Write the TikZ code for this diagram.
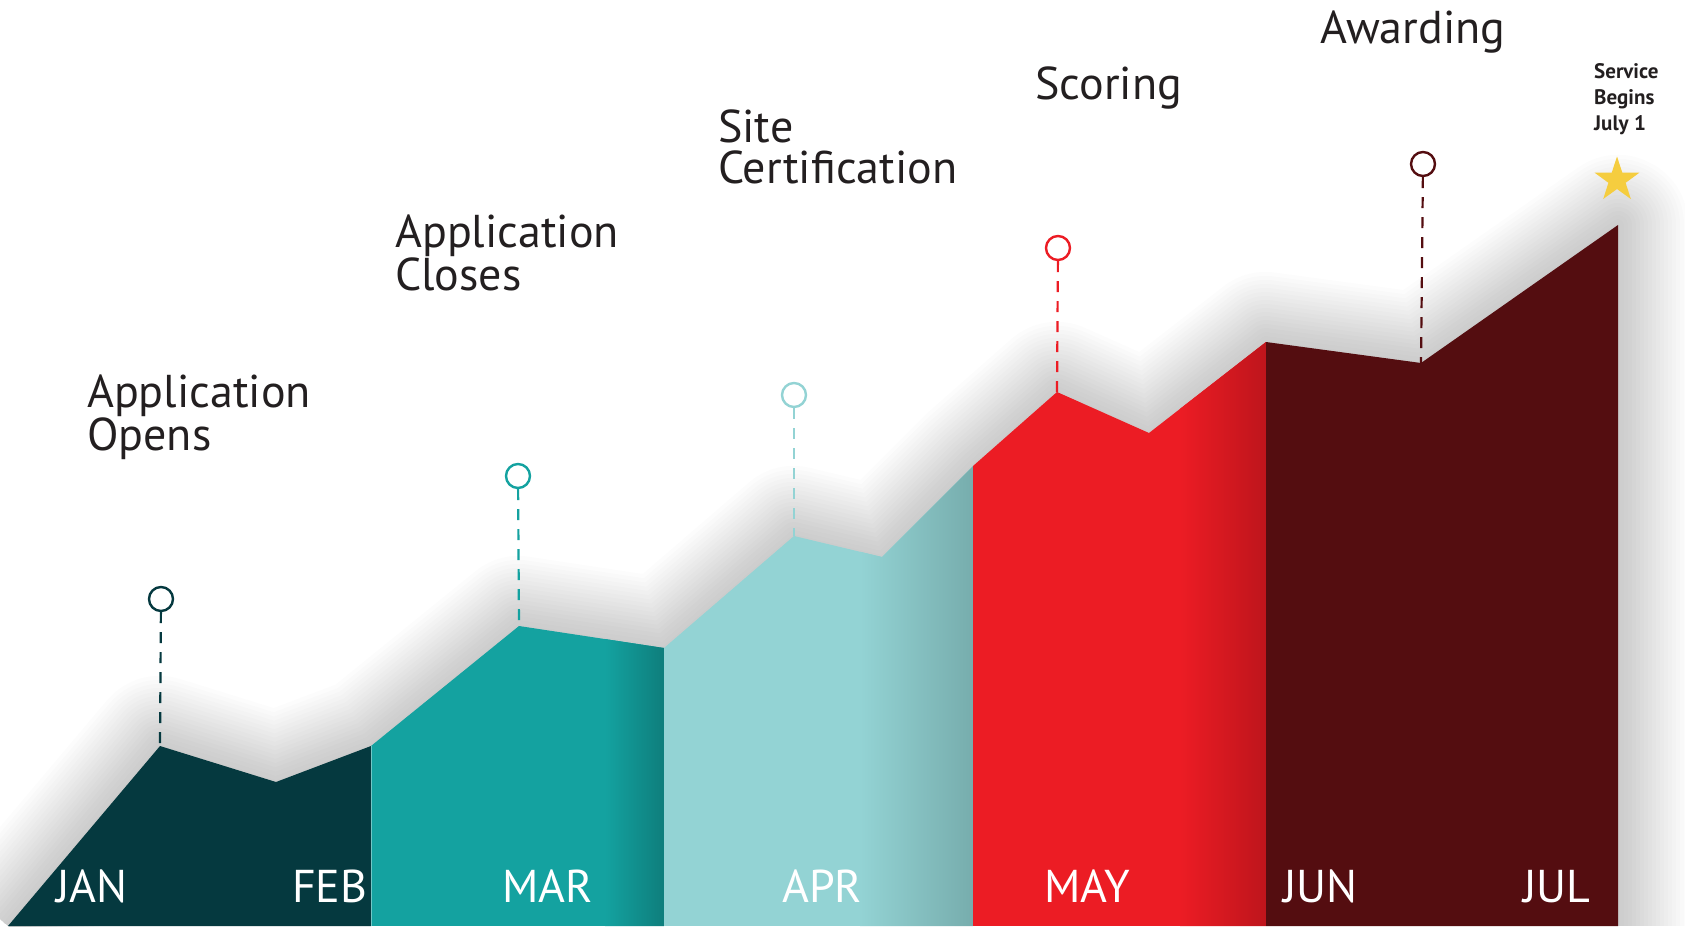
\documentclass[tikz,border=0pt]{standalone}
\usepackage{fontspec}
\setmainfont{PT Sans}
\usetikzlibrary{shapes.geometric}
\definecolor{inkc}{HTML}{231F20}
\definecolor{janc}{HTML}{05393F}
\definecolor{marc}{HTML}{14A2A0}
\definecolor{mardark}{HTML}{0E7E7C}
\definecolor{aprc}{HTML}{93D3D4}
\definecolor{aprdark}{HTML}{77ADAD}
\definecolor{mayc}{HTML}{EC1C24}
\definecolor{maydark}{HTML}{BE151C}
\definecolor{junc}{HTML}{540D10}
\definecolor{starc}{HTML}{F5CD3F}
\begin{document}
\begin{tikzpicture}[x=1pt,y=-1pt,
	pin/.style={circle,draw,line width=2.4pt,minimum size=24pt,inner sep=0pt},
	stem/.style={line width=2.2pt,dash pattern=on 11pt off 9pt},
	month/.style={anchor=base west,inner sep=0pt,text=white,font=\fontsize{46}{46}\selectfont},
	event/.style={anchor=base west,inner sep=0pt,align=left,text=inkc,font=\fontsize{46}{41}\selectfont}]
	\useasboundingbox (0,0) rectangle (1685,926);
	% top edge of the chart
	\coordinate (p0) at (8,926);
	\coordinate (jan) at (160,746);
	\coordinate (p2) at (276,782);
	\coordinate (p3) at (371,746);
	\coordinate (mar) at (519,626);
	\coordinate (p5) at (664,648);
	\coordinate (apr) at (794,536);
	\coordinate (p7) at (882,557);
	\coordinate (p8) at (973,466);
	\coordinate (may) at (1057,392);
	\coordinate (p10) at (1149,433);
	\coordinate (p11) at (1266,342);
	\coordinate (jun) at (1421,363);
	\coordinate (p13) at (1618,225);
	\coordinate (p14) at (1618,926);
	% soft shadow
	\foreach \w in {4,12,...,140}
		\draw[black,opacity=0.011,line width=\w pt,line join=round]
			(p0) -- (jan) -- (p2) -- (p3) -- (mar) -- (p5) -- (apr) -- (p7) -- (p8)
			-- (may) -- (p10) -- (p11) -- (jun) -- (p13) -- (p14);
	% columns
	\fill[janc] (p0) -- (jan) -- (p2) -- (p3) -- (371,926) -- cycle;
	\begin{scope}
	\clip (371,926) -- (p3) -- (mar) -- (p5) -- (664,926) -- cycle;
	\fill[marc] (371,500) rectangle (664,926);
	\shade[left color=marc,right color=mardark] (605,500) rectangle (664,926);
	\end{scope}
	\begin{scope}
	\clip (664,926) -- (p5) -- (apr) -- (p7) -- (p8) -- (973,926) -- cycle;
	\fill[aprc] (664,400) rectangle (973,926);
	\shade[left color=aprc,right color=aprdark] (860,400) rectangle (973,926);
	\end{scope}
	\begin{scope}
	\clip (973,926) -- (p8) -- (may) -- (p10) -- (p11) -- (1266,926) -- cycle;
	\fill[mayc] (973,300) rectangle (1266,926);
	\shade[left color=mayc,right color=maydark] (1180,300) rectangle (1266,926);
	\end{scope}
	\fill[junc] (1266,926) -- (p11) -- (jun) -- (p13) -- (p14) -- cycle;
	\draw[white,opacity=0.4,line width=0.8pt] (p3) -- (371,926);
	% pins
	\node[pin,draw=janc] (janpin) at (161,599) {};
	\node[pin,draw=marc] (marpin) at (518,476) {};
	\node[pin,draw=aprc] (aprpin) at (794,395) {};
	\node[pin,draw=mayc] (maypin) at (1058,248) {};
	\node[pin,draw=junc] (junpin) at (1423,164) {};
	\draw[stem,janc] (janpin) -- (jan);
	\draw[stem,marc] (marpin) -- (mar);
	\draw[stem,aprc] (aprpin) -- (apr);
	\draw[stem,mayc] (maypin) -- (may);
	\draw[stem,junc] (junpin) -- (jun);
	% events (anchored at the last line)
	\node[event] (opens) at (87,450) {Application\\Opens};
	\node[event] (closes) at (395,290) {Application\\Closes};
	\node[event] (site) at (718,183) {Site\\Certification};
	\node[event] (scoring) at (1035,99) {Scoring};
	\node[event] (awarding) at (1320,43) {Awarding};
	\node[anchor=base west,inner sep=0pt,align=left,text=inkc,font=\bfseries\fontsize{21}{26}\selectfont]
		(service) at (1594,130) {Service\\Begins\\July 1};
	\node[star,star points=5,star point ratio=2.6,fill=starc,inner sep=0pt,minimum size=47pt]
		(julstar) at (1617,180) {};
	% months
	\node[month] (janlbl) at (56,902) {JAN};
	\node[month] (feblbl) at (292,902) {FEB};
	\node[month] (marlbl) at (502,902) {MAR};
	\node[month] (aprlbl) at (782,902) {APR};
	\node[month] (maylbl) at (1044,902) {MAY};
	\node[month] (junlbl) at (1283,902) {JUN};
	\node[month] (jullbl) at (1523,902) {JUL};
\end{tikzpicture}
\end{document}
